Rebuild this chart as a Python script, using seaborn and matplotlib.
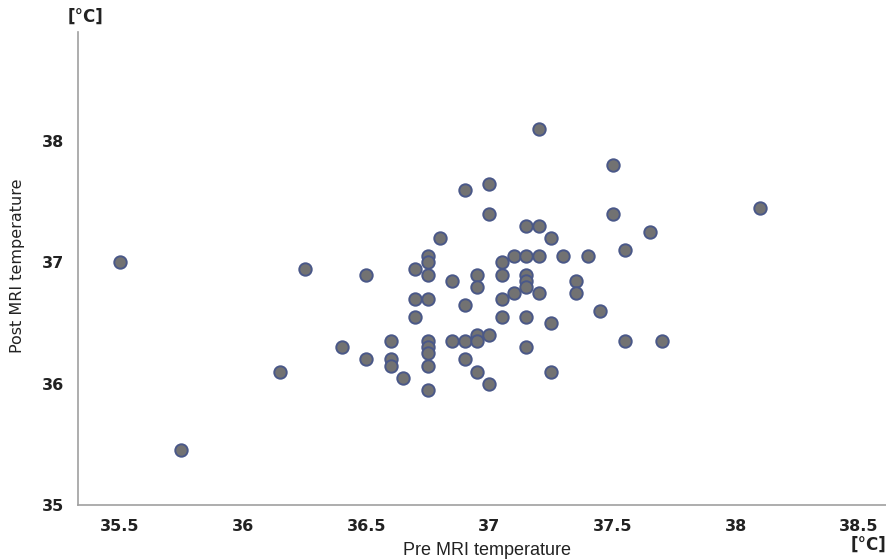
import numpy as np
import pandas as pd
import matplotlib.pyplot as plt
import seaborn as sns

# Pre / post MRI temperatures
pre = [35.5, 35.75, 36.15, 36.25, 36.4, 36.5, 36.5,
       36.6, 36.6, 36.6, 36.65,
       36.7, 36.7, 36.7,
       36.75, 36.75, 36.75, 36.75, 36.75, 36.75, 36.75, 36.75, 36.75,
       36.8, 36.85, 36.85,
       36.9, 36.9, 36.9, 36.9,
       36.95, 36.95, 36.95, 36.95, 36.95,
       37.0, 37.0, 37.0, 37.0,
       37.05, 37.05, 37.05, 37.05,
       37.1, 37.1,
       37.15, 37.15, 37.15, 37.15, 37.15, 37.15, 37.15,
       37.2, 37.2, 37.2, 37.2,
       37.25, 37.25, 37.25,
       37.3, 37.35, 37.35, 37.4, 37.45,
       37.5, 37.5, 37.55, 37.55, 37.65, 37.7, 38.1]
post = [37.0, 35.45, 36.1, 36.95, 36.3, 36.9, 36.2,
        36.35, 36.2, 36.15, 36.05,
        36.95, 36.7, 36.55,
        37.05, 37.0, 36.9, 36.7, 36.35, 36.3, 36.25, 36.15, 35.95,
        37.2, 36.85, 36.35,
        37.6, 36.65, 36.35, 36.2,
        36.9, 36.8, 36.4, 36.35, 36.1,
        37.65, 37.4, 36.4, 36.0,
        37.0, 36.9, 36.7, 36.55,
        37.05, 36.75,
        37.3, 37.05, 36.9, 36.85, 36.8, 36.55, 36.3,
        38.1, 37.3, 37.05, 36.75,
        37.2, 36.5, 36.1,
        37.05, 36.85, 36.75, 37.05, 36.6,
        37.8, 37.4, 37.1, 36.35, 37.25, 36.35, 37.45]

df = pd.DataFrame({"pre": pre, "post": post})

sns.set_style("white")
plt.rcParams['font.family'] = ['DejaVu Sans']

fig = plt.figure(figsize=(8.86, 5.59), dpi=100)
ax = fig.add_axes([0.088, 0.0966, 0.912, 0.846])

sns.scatterplot(data=df, x="pre", y="post", ax=ax, s=80,
                color="#727272", edgecolor="#4a5888", linewidth=1.4)

ax.set_xlim(35.33, 38.61)
ax.set_ylim(35.0, 38.9)
ax.set_xticks([35.5, 36, 36.5, 37, 37.5, 38, 38.5])
ax.set_xticklabels(["35.5", "36", "36.5", "37", "37.5", "38", "38.5"])
ax.set_yticks([35, 36, 37, 38])
ax.set_yticklabels(["35", "36", "37", "38"])
ax.tick_params(length=0, labelsize=11.5, pad=10)
for lab in ax.get_xticklabels() + ax.get_yticklabels():
    lab.set_fontweight("bold")
    lab.set_color("#222222")

for side in ["top", "right"]:
    ax.spines[side].set_visible(False)
for side in ["left", "bottom"]:
    ax.spines[side].set_color("#a0a0a0")
    ax.spines[side].set_linewidth(1.2)

ax.set_xlabel("")
ax.set_ylabel("")
fig.text(0.55, 0.016, "Pre MRI temperature", ha="center", va="center",
         fontsize=13, family=['Liberation Sans Narrow', 'Liberation Sans'],
         color="#222222")
fig.text(0.02, 0.525, "Post MRI temperature", ha="center", va="center",
         rotation=90, fontsize=11.5, color="#222222")
fig.text(0.096, 0.97, "[°C]", ha="center", va="center", fontsize=12,
         fontweight="bold", color="#222222")
fig.text(0.98, 0.025, "[°C]", ha="center", va="center", fontsize=12,
         fontweight="bold", color="#222222")

fig.savefig("out.png", dpi=100)
